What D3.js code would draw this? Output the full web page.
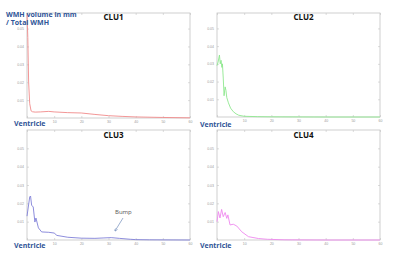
<!DOCTYPE html>
<html>
<head>
<meta charset="utf-8">
<script src="https://cdn.jsdelivr.net/npm/d3@7"></script>
<style>
  body { margin: 0; background: #fff; }
  svg { display: block; font-family: "Open Sans", "Liberation Sans", sans-serif; }
</style>
</head>
<body>
<div id="chart"></div>
<script>
// distance from ventricle (x) and normalised WMH volume (y)
var xTicks = [0, 10, 20, 30, 40, 50, 60]
var yTicks = [0.01, 0.02, 0.03, 0.04, 0.05]

var clu1X = [0, 0.3, 0.6, 1, 1.5, 2, 3, 5, 8, 10, 15, 20, 25, 30, 35, 40, 50, 60]
var clu1Y = [0.058, 0.045, 0.02, 0.008, 0.004, 0.0035, 0.0033, 0.0034, 0.0037, 0.0034, 0.003, 0.0028, 0.002, 0.0013, 0.0009, 0.0006, 0.0003, 0.0001]

var clu2X = [0, 0.4, 0.9, 1.2, 1.5, 1.8, 2.0, 2.3, 2.6, 3.0, 3.3, 3.6, 4.2, 5, 6, 7, 8, 10, 15, 20, 30, 40, 60]
var clu2Y = [0.029, 0.031, 0.035, 0.030, 0.032, 0.028, 0.030, 0.022, 0.012, 0.017, 0.015, 0.011, 0.008, 0.005, 0.003, 0.0018, 0.001, 0.0004, 0.0002, 0.0001, 0.00005, 0, 0]

var clu3X = [0, 1.0, 1.3, 1.7, 2.3, 2.9, 3.3, 4.2, 5.4, 8, 10, 11, 15, 20, 25, 28, 31, 34, 38, 40, 45, 60]
var clu3Y = [0.013, 0.0235, 0.024, 0.019, 0.018, 0.0098, 0.012, 0.0066, 0.0044, 0.0042, 0.0038, 0.0025, 0.0015, 0.001, 0.0009, 0.0011, 0.0013, 0.0009, 0.0004, 0.0002, 0.0001, 0]

var clu4X = [0, 0.5, 1.1, 1.7, 2.3, 3.0, 3.6, 4.0, 4.8, 6.0, 7.3, 9.1, 11.6, 15.3, 18.5, 25, 40, 60]
var clu4Y = [0.010, 0.0155, 0.012, 0.0167, 0.0127, 0.015, 0.0118, 0.0137, 0.0082, 0.0086, 0.0076, 0.0045, 0.0018, 0.0008, 0.0004, 0.0001, 0, 0]

var panels = [
  {name: "CLU1", xs: clu1X, ys: clu1Y, color: "#f08a8a", left: 27, top: 13, w: 163, h: 105, ymax: 0.0587},
  {name: "CLU2", xs: clu2X, ys: clu2Y, color: "#8ee88e", left: 217, top: 13, w: 163, h: 104, ymax: 0.0587},
  {name: "CLU3", xs: clu3X, ys: clu3Y, color: "#8080d8", left: 27, top: 130, w: 163, h: 110, ymax: 0.060},
  {name: "CLU4", xs: clu4X, ys: clu4Y, color: "#ee88ee", left: 217, top: 130, w: 163, h: 110, ymax: 0.060}
]

var svg = d3.select("#chart").append("svg")
    .attr("width", 400)
    .attr("height", 255)

panels.forEach(function(p) {
  var x = d3.scaleLinear().domain([0, 60]).range([0, p.w])
  var y = d3.scaleLinear().domain([0, p.ymax]).range([p.h, 0])

  var g = svg.append("g")
      .attr("transform", "translate(" + p.left + "," + p.top + ")")

  g.append("rect")
      .attr("width", p.w)
      .attr("height", p.h)
      .attr("fill", "none")
      .attr("stroke", "#c4c4c4")
      .attr("stroke-width", 0.8)

  // inward ticks on all four sides, matlab style
  // the 0 label sits under "Ventricle" so it is left blank
  var ax = [
    {axis: d3.axisBottom(x).tickValues(xTicks).tickSize(-2).tickFormat(function(d) { return d ? d : "" }), tr: "translate(0," + p.h + ")"},
    {axis: d3.axisTop(x).tickValues(xTicks).tickSize(-2).tickFormat(""), tr: null},
    {axis: d3.axisLeft(y).tickValues(yTicks).tickSize(-2).tickFormat(d3.format(".2f")), tr: null},
    {axis: d3.axisRight(y).tickValues(yTicks).tickSize(-2).tickFormat(""), tr: "translate(" + p.w + ",0)"}
  ]
  ax.forEach(function(a) {
    var ag = g.append("g").call(a.axis)
    if (a.tr) ag.attr("transform", a.tr)
    ag.select(".domain").remove()
    ag.selectAll("line").attr("stroke", "#c4c4c4").attr("stroke-width", 0.6)
    ag.selectAll("text").attr("fill", "#999").style("font-size", "3.5px")
  })

  var line = d3.line()
      .x(function(d, i) { return x(p.xs[i]) })
      .y(function(d) { return y(d) })

  g.append("path")
      .datum(p.ys)
      .attr("d", line)
      .attr("fill", "none")
      .attr("stroke", p.color)
      .attr("stroke-width", 0.9)

  g.append("text")
      .attr("x", p.w / 2 + 5)
      .attr("y", p.top > 100 ? 8 : 7)
      .attr("text-anchor", "middle")
      .style("font-size", "8px")
      .style("font-weight", "bold")
      .attr("fill", "#111")
      .text(p.name)
})

// bottom-left labels
var ventX = [14, 200, 14, 200]
var ventY = [126, 127, 248, 248]
ventX.forEach(function(vx, i) {
  svg.append("text")
      .attr("x", vx)
      .attr("y", ventY[i])
      .style("font-size", "7px")
      .style("font-weight", "bold")
      .attr("fill", "#2f5597")
      .text("Ventricle")
})

svg.append("text")
    .attr("x", 6)
    .attr("y", 17)
    .style("font-size", "7px")
    .style("font-weight", "bold")
    .attr("fill", "#2f5597")
    .text("WMH volume in mm")
svg.append("text")
    .attr("x", 6)
    .attr("y", 25)
    .style("font-size", "7px")
    .style("font-weight", "bold")
    .attr("fill", "#2f5597")
    .text("/ Total WMH")

// bump annotation on CLU3
svg.append("text")
    .attr("x", 115)
    .attr("y", 214)
    .style("font-size", "6px")
    .attr("fill", "#555")
    .text("Bump")
svg.append("defs").append("marker")
    .attr("id", "head")
    .attr("viewBox", "0 0 10 10")
    .attr("refX", 9).attr("refY", 5)
    .attr("markerWidth", 5).attr("markerHeight", 5)
    .attr("orient", "auto")
  .append("path")
    .attr("d", "M0,0L10,5L0,10")
    .attr("fill", "none")
    .attr("stroke", "#5b7bb0")
    .attr("stroke-width", 1.5)
svg.append("line")
    .attr("x1", 123).attr("y1", 218)
    .attr("x2", 115).attr("y2", 231)
    .attr("stroke", "#5b7bb0")
    .attr("stroke-width", 0.6)
    .attr("marker-end", "url(#head)")
</script>
</body>
</html>
